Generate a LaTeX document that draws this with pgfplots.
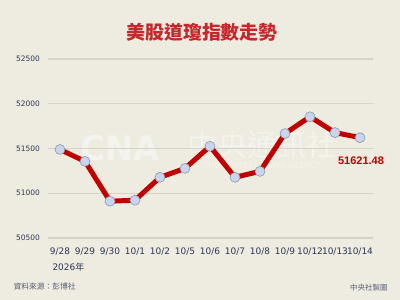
\documentclass[border=0pt]{standalone}
\usepackage{pgfplots}
\pgfplotsset{compat=1.18}
\usepackage{fontspec}
\setmainfont{DejaVu Sans}
\newfontfamily\cjk{Noto Sans CJK TC}
\newfontfamily\arialb{Liberation Sans}
\definecolor{bgc}{HTML}{EEEBE1}
\definecolor{linec}{HTML}{C00000}
\definecolor{markc}{HTML}{C9D4EE}
\definecolor{marke}{HTML}{8C96AA}
\definecolor{gridc}{HTML}{D6D3C8}
\definecolor{tickc}{HTML}{2E3650}
\definecolor{titlec}{HTML}{C4282C}
\begin{document}
\begin{tikzpicture}
\fill[bgc] (0bp,0bp) rectangle (400bp,300bp);
\path[use as bounding box] (0bp,0bp) rectangle (400bp,300bp);
% watermark
\node[text=white, opacity=0.4, font=\fontsize{34}{34}\selectfont\bfseries] at (120bp,152bp) {CNA};
\node[text=white, opacity=0.4, font=\cjk\fontsize{30}{30}\selectfont] at (262bp,155bp) {中央通訊社};
\node[text=white, opacity=0.4, font=\fontsize{8}{8}\selectfont] at (262bp,134bp) {THE CENTRAL NEWS AGENCY};
\begin{axis}[
  at={(47.5bp,62bp)}, anchor=south west,
  scale only axis, width=325bp, height=179bp,
  xmin=-0.5, xmax=12.5, ymin=50500, ymax=52500,
  axis line style={draw=none},
  xtick={0,...,12},
  xticklabels={9/28,9/29,9/30,10/1,10/2,10/5,10/6,10/7,10/8,10/9,10/12,10/13,10/14},
  ytick={50500,51000,51500,52000,52500},
  scaled y ticks=false,
  yticklabel style={font=\fontsize{7.5}{8}\selectfont, text=tickc, xshift=-4bp},
  xticklabel style={font=\fontsize{9}{10}\selectfont, text=tickc, yshift=-6bp},
  /pgf/number format/assume math mode=true,
  /pgf/number format/1000 sep={},
  major tick length=0pt,
  ymajorgrids, grid style={gridc, line width=1.2pt},
  clip=false,
]
\addplot[linec, line width=5pt, line join=round, mark=*, mark size=5pt,
  mark options={fill=markc, draw=marke, line width=0.6pt}]
  coordinates {
  (0,51489) (1,51356) (2,50911) (3,50922) (4,51178) (5,51278)
  (6,51525) (7,51178) (8,51245) (9,51667) (10,51855) (11,51678) (12,51621.48)
  };
\end{axis}
\node[anchor=west, text=tickc, font=\fontsize{9}{10}\selectfont] at (49bp,33bp) {2026{\cjk 年}};
\node[text=titlec, font=\cjk\fontsize{19}{19}\selectfont\bfseries] at (202bp,268bp) {美股道瓊指數走勢};
\node[text=linec, font=\arialb\fontsize{11}{11}\selectfont\bfseries] at (361bp,139bp) {51621.48};
\node[anchor=west, text=tickc!80, font=\cjk\fontsize{7.8}{8}\selectfont] at (10bp,13bp) {資料來源：彭博社};
\node[anchor=east, text=tickc!80, font=\cjk\fontsize{7.5}{8}\selectfont] at (391bp,12bp) {中央社製圖};
\end{tikzpicture}
\end{document}
